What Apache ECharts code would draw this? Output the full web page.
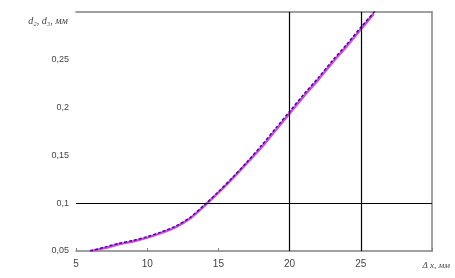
<!DOCTYPE html>
<html><head><meta charset="utf-8">
<script src="https://cdn.jsdelivr.net/npm/echarts@6/dist/echarts.min.js"></script>
<style>html,body{margin:0;padding:0;background:#fff}#c{width:455px;height:278px}</style>
</head><body><div id="c"></div>
<script>
const xSolid = [6, 7, 8, 9, 10, 11, 12, 13, 14, 15, 16, 17, 18, 19, 20, 21, 22, 23, 24, 25, 25.9];
const ySolid = [0.05, 0.053, 0.057, 0.06, 0.064, 0.069, 0.075, 0.084, 0.097, 0.111, 0.126, 0.142, 0.158, 0.176, 0.194, 0.212, 0.229, 0.247, 0.264, 0.282, 0.298];
const xDashed = [6, 7, 8, 9, 10, 11, 12, 13, 14, 15, 16, 17, 18, 19, 20, 21, 22, 23, 24, 25, 26];
const yDashed = [0.05, 0.054, 0.058, 0.061, 0.065, 0.070, 0.076, 0.085, 0.098, 0.112, 0.127, 0.143, 0.160, 0.178, 0.196, 0.214, 0.231, 0.249, 0.266, 0.284, 0.301];
const xTicks = [5, 10, 15, 20, 25];
const yTickLabels = {"0.05":"0,05","0.1":"0,1","0.15":"0,15","0.2":"0,2","0.25":"0,25"};
const vLines = [20, 25];
const hLines = [0.1];

const chart = echarts.init(document.getElementById('c'));
const lblColor = '#444';
chart.setOption({
  animation: false,
  grid: {left: 76, right: 23, top: 12, bottom: 27},
  xAxis: [{
    type: 'value', min: 5, max: 30, interval: 5,
    axisLine: {show: true, lineStyle: {color: '#808080', width: 1.5}},
    axisTick: {show: true, inside: true, length: 3, lineStyle: {color: '#808080'}},
    axisLabel: {color: lblColor, fontSize: 10, fontFamily: 'Liberation Sans', margin: 8,
      formatter: v => xTicks.includes(v) ? String(v) : ''},
    splitLine: {show: false},
    name: 'Δ x, мм', nameLocation: 'end', nameGap: 0,
    nameTextStyle: {color: lblColor, fontSize: 9, fontFamily: 'Liberation Serif', fontStyle: 'italic',
      align: 'right', verticalAlign: 'top', padding: [10, -18, 0, 0]}
  }, {
    type: 'value', min: 5, max: 30, position: 'top',
    axisLine: {show: true, lineStyle: {color: '#808080', width: 1.5}},
    axisTick: {show: false}, axisLabel: {show: false}, splitLine: {show: false}
  }],
  yAxis: [{
    type: 'value', min: 0.05, max: 0.3, interval: 0.05,
    axisLine: {show: false}, axisTick: {show: false},
    axisLabel: {color: lblColor, fontSize: 9, fontFamily: 'Liberation Sans', margin: 7,
      formatter: v => yTickLabels[String(+v.toFixed(2))] || ''},
    splitLine: {show: false},
    name: 'd₂, d₃, мм', nameLocation: 'end', nameGap: 0,
    nameTextStyle: {color: lblColor, fontSize: 10, fontFamily: 'Liberation Serif', fontStyle: 'italic',
      align: 'right', verticalAlign: 'top', padding: [4, 8, 0, 0]}
  }, {
    type: 'value', min: 0.05, max: 0.3, position: 'right',
    axisLine: {show: true, lineStyle: {color: '#808080', width: 1.5}},
    axisTick: {show: false}, axisLabel: {show: false}, splitLine: {show: false}
  }],
  series: [{
    type: 'line', data: [], silent: true,
    markLine: {
      symbol: 'none', silent: true, label: {show: false},
      lineStyle: {color: '#000', width: 1.2, type: 'solid'},
      data: vLines.map(v => ({xAxis: v})).concat(hLines.map(v => ({yAxis: v})))
    }
  }, {
    type: 'line', showSymbol: false, smooth: 0.3,
    data: xSolid.map((x, i) => [x, ySolid[i]]),
    lineStyle: {color: '#e040e8', width: 2.5}
  }, {
    type: 'line', showSymbol: false, smooth: 0.3,
    data: xDashed.map((x, i) => [x, yDashed[i]]),
    lineStyle: {color: '#2a1a8a', width: 1.5, type: [3, 2]}
  }]
});
</script></body></html>
